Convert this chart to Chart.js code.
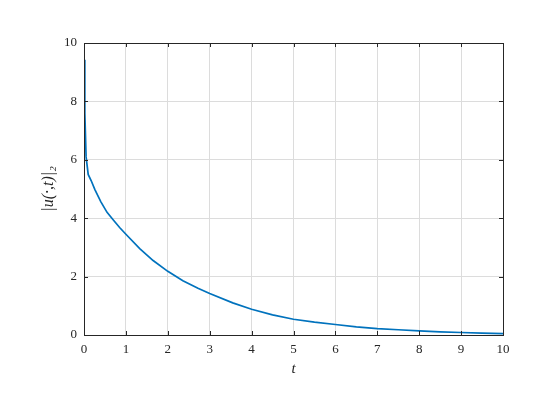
<!DOCTYPE html>
<html>
<head>
<meta charset="utf-8">
<script src="https://cdn.jsdelivr.net/npm/chart.js@4"></script>
<style>
  html, body { margin: 0; padding: 0; background: #fff; }
  #wrap { width: 560px; height: 420px; }
</style>
</head>
<body>
<div id="wrap"><canvas id="normChart" width="560" height="420"></canvas></div>
<script>
// |u(.,t)|_2 en funcion de t
const tValues = [0, 0.02, 0.05, 0.1, 0.17, 0.26, 0.4, 0.55, 0.7, 0.85, 1.0, 1.33, 1.65, 2.0, 2.36,
  2.72, 3.0, 3.55, 4.0, 4.5, 5.0, 5.5, 6.0, 6.5, 7.0, 7.5, 8.0, 8.5, 9.0, 9.5, 10];
const normValues = [9.43, 7.6, 6.1, 5.5, 5.29, 4.98, 4.57, 4.2, 3.94, 3.68, 3.45, 2.96, 2.55, 2.18, 1.86,
  1.6, 1.42, 1.1, 0.88, 0.69, 0.54, 0.44, 0.36, 0.28, 0.22, 0.18, 0.14, 0.11, 0.085, 0.065, 0.05];

const xLabel = 't';
const yLabel = '|u(·,t)|₂';

const FONT = '"Liberation Serif", "Times New Roman", serif';
const INK = '#262626';

// caja negra + marcas de ticks hacia adentro (estilo MATLAB)
const boxPlugin = {
  id: 'boxPlugin',
  afterDatasetsDraw(chart) {
    const { ctx, chartArea: a, scales } = chart;
    const len = 4;
    ctx.save();
    ctx.strokeStyle = INK;
    ctx.lineWidth = 1;
    ctx.beginPath();
    scales.x.ticks.forEach(t => {
      const px = Math.round(scales.x.getPixelForValue(t.value)) + 0.5;
      ctx.moveTo(px, a.bottom); ctx.lineTo(px, a.bottom - len);
      ctx.moveTo(px, a.top); ctx.lineTo(px, a.top + len);
    });
    scales.y.ticks.forEach(t => {
      const py = Math.round(scales.y.getPixelForValue(t.value)) + 0.5;
      ctx.moveTo(a.left, py); ctx.lineTo(a.left + len, py);
      ctx.moveTo(a.right, py); ctx.lineTo(a.right - len, py);
    });
    ctx.stroke();
    ctx.strokeRect(Math.round(a.left) + 0.5, Math.round(a.top) + 0.5,
      Math.round(a.right - a.left), Math.round(a.bottom - a.top));
    ctx.restore();
  }
};

new Chart(document.getElementById('normChart'), {
  type: 'line',
  data: {
    datasets: [{
      data: tValues.map((t, i) => ({ x: t, y: normValues[i] })),
      borderColor: '#0072BD',
      borderWidth: 1.7,
      pointRadius: 0,
      tension: 0,
      fill: false,
    }],
  },
  options: {
    responsive: false,
    animation: false,
    layout: { padding: { top: 43, right: 57, left: 0, bottom: 0 } },
    plugins: {
      legend: { display: false },
      tooltip: { enabled: false },
    },
    scales: {
      x: {
        type: 'linear',
        min: 0,
        max: 10,
        afterFit: s => { s.height = 85; },
        ticks: { stepSize: 1, color: INK, padding: 7, maxRotation: 0, font: { family: FONT, size: 13 } },
        grid: { color: '#dcdcdc', lineWidth: 1, drawTicks: false },
        border: { display: false },
        title: {
          display: true,
          text: xLabel,
          color: INK,
          padding: { top: 0, bottom: 42 },
          font: { family: FONT, size: 15, style: 'italic' },
        },
      },
      y: {
        min: 0,
        max: 10,
        afterFit: s => { s.width = 84; },
        ticks: { stepSize: 2, color: INK, padding: 7, font: { family: FONT, size: 13 } },
        grid: { color: '#dcdcdc', lineWidth: 1, drawTicks: false },
        border: { display: false },
        title: {
          display: true,
          text: yLabel,
          color: INK,
          padding: { top: 39, bottom: 0 },
          font: { family: FONT, size: 16, style: 'italic' },
        },
      },
    },
  },
  plugins: [boxPlugin],
});
</script>
</body>
</html>
